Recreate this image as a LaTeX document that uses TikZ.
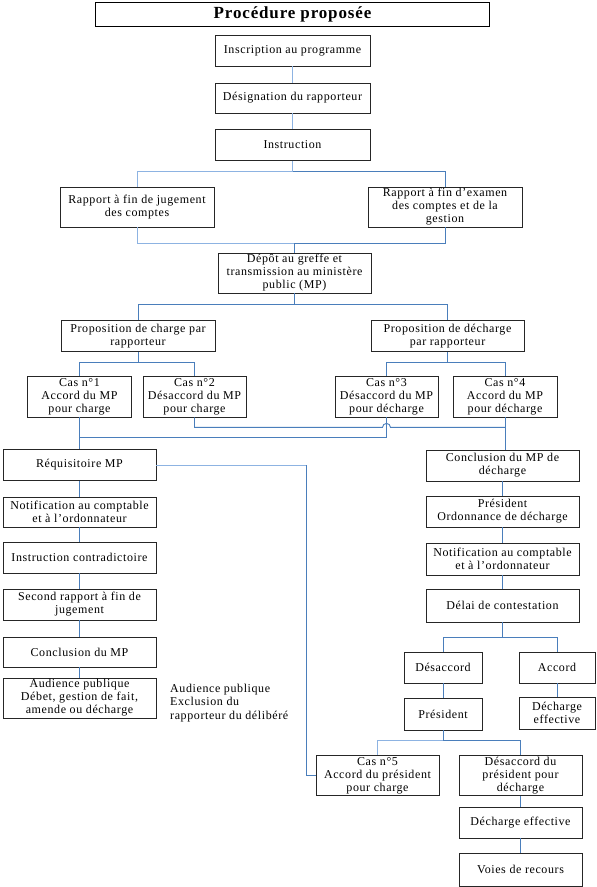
\documentclass[tikz,border=0pt]{standalone}
\usepackage{fontspec}
\setmainfont{Liberation Serif}[LetterSpace=5]
\usetikzlibrary{calc}
\definecolor{bleuclair}{HTML}{8DB3E2}
\definecolor{bleufonce}{HTML}{4A7EBB}
\tikzset{
  etape/.style={draw=black!85, line width=0.8pt, align=center, inner sep=0.5pt,
    font=\fontsize{12}{13}\selectfont},
  lien/.style={draw=bleufonce, line width=0.9pt},
  lienclair/.style={draw=bleuclair, line width=0.9pt},
}
\begin{document}
\begin{tikzpicture}[x=1pt,y=-1pt]
      \useasboundingbox (0,0) rectangle (597,887);
      % titre
      \node[draw, line width=0.9pt, minimum width=394, minimum height=24,
        font=\fontsize{17}{19}\selectfont\bfseries] (titre) at (292.5,14) {Procédure proposée};
      % tronc commun
      \node[etape, minimum width=155, minimum height=31] (inscription) at (292.5,50.5) {Inscription au programme};
      \node[etape, minimum width=155, minimum height=30] (designation) at (292.5,98) {Désignation du rapporteur};
      \node[etape, minimum width=155, minimum height=31] (instruction) at (292.5,145) {Instruction};
      \node[etape, minimum width=154, minimum height=40] (rapjugement) at (137,207) {Rapport à fin de jugement\\des comptes};
      \node[etape, minimum width=154, minimum height=40] (rapexamen) at (445,207) {Rapport à fin d’examen\\des comptes et de la\\gestion};
      \node[etape, minimum width=153, minimum height=40] (depot) at (294.5,273) {Dépôt au greffe et\\transmission au ministère\\public (MP)};
      \node[etape, minimum width=154, minimum height=31] (propcharge) at (138,336) {Proposition de charge par\\rapporteur};
      \node[etape, minimum width=153, minimum height=31] (propdecharge) at (447.5,336) {Proposition de décharge\\par rapporteur};
      % les quatre cas
      \node[etape, minimum width=104, minimum height=41] (cas1) at (79.5,396.5) {Cas n°1\\Accord du MP\\pour charge};
      \node[etape, minimum width=103, minimum height=41] (cas2) at (194.5,396.5) {Cas n°2\\Désaccord du MP\\pour charge};
      \node[etape, minimum width=103, minimum height=41] (cas3) at (386.5,396.5) {Cas n°3\\Désaccord du MP\\pour décharge};
      \node[etape, minimum width=104, minimum height=41] (cas4) at (505,396.5) {Cas n°4\\Accord du MP\\pour décharge};
      % colonne de gauche : charge
      \node[etape, minimum width=153, minimum height=31] (requisitoire) at (79.5,465) {Réquisitoire MP};
      \node[etape, minimum width=153, minimum height=30] (notifgauche) at (79.5,512) {Notification au comptable\\et à l’ordonnateur};
      \node[etape, minimum width=153, minimum height=31] (contradictoire) at (79.5,557.5) {Instruction contradictoire};
      \node[etape, minimum width=153, minimum height=31] (second) at (79.5,604.5) {Second rapport à fin de\\jugement};
      \node[etape, minimum width=153, minimum height=30] (conclusion) at (79.5,652) {Conclusion du MP};
      \node[etape, minimum width=153, minimum height=40] (audience) at (79.5,698) {Audience publique\\Débet, gestion de fait,\\amende ou décharge};
      \node[align=left, anchor=west, inner sep=0.5pt, font=\fontsize{12}{13.5}\selectfont] (exclusion) at (169.5,703) {Audience publique\\Exclusion du\\rapporteur du délibéré};
      % colonne de droite : décharge
      \node[etape, minimum width=153, minimum height=31] (concldecharge) at (502.5,465.5) {Conclusion du MP de\\décharge};
      \node[etape, minimum width=153, minimum height=31] (ordonnance) at (502.5,511.5) {Président\\Ordonnance de décharge};
      \node[etape, minimum width=153, minimum height=32] (notifdroite) at (502.5,559) {Notification au comptable\\et à l’ordonnateur};
      \node[etape, minimum width=153, minimum height=33] (delai) at (502.5,605.5) {Délai de contestation};
      \node[etape, minimum width=78, minimum height=31] (desaccord) at (443,667.5) {Désaccord};
      \node[etape, minimum width=76, minimum height=31] (accord) at (557,667.5) {Accord};
      \node[etape, minimum width=78, minimum height=32] (president) at (443,714) {Président};
      \node[etape, minimum width=76, minimum height=32] (effectiveaccord) at (557,713) {Décharge\\effective};
      \node[etape, minimum width=123, minimum height=40] (cas5) at (377.5,775.5) {Cas n°5\\Accord du président\\pour charge};
      \node[etape, minimum width=123, minimum height=40] (desaccpres) at (520.5,775.5) {Désaccord du\\président pour\\décharge};
      \node[etape, minimum width=123, minimum height=31] (effective) at (520.5,822.5) {Décharge effective};
      \node[etape, minimum width=123, minimum height=33] (recours) at (520.5,869.5) {Voies de recours};
      % liens du haut
      \draw[lienclair] (inscription) -- (designation);
      \draw[lienclair] (designation) -- (instruction);
      \draw[lien] (instruction.south) -- ++(0,11) -| (rapexamen.north);
      \draw[lienclair] (instruction.south) -- ++(0,11) -| (rapjugement.north);
      \draw[lienclair] (rapjugement.south) -- ++(0,16) -| (depot.north);
      \draw[lien] (rapexamen.south) -- ++(0,16) -| (depot.north);
      \draw[lien] (depot.south) -- ++(0,11) -| (propcharge.north);
      \draw[lien] (depot.south) -- ++(0,11) -| (propdecharge.north);
      \draw[lien] (propcharge.south) -- ++(0,11) -| (cas1.north);
      \draw[lien] (propcharge.south) -- ++(0,11) -| (cas2.north);
      \draw[lien] (propdecharge.south) -- ++(0,11) -| (cas3.north);
      \draw[lien] (propdecharge.south) -- ++(0,11) -| (cas4.north);
      % regroupement des cas
      \coordinate (jonction) at ($(cas4.south)+(0,10)$);
      \draw[lien] (cas4.south) -- (cas4.south |- concldecharge.north);
      \draw[lien] (cas2.south) |- ($(cas3.south |- jonction)+(-4,0)$)
        arc[start angle=180, end angle=0, radius=4pt] -- (jonction);
      \draw[lien] (cas1.south) -- (requisitoire.north);
      \draw[lien] (cas3.south) -- ++(0,20) -| (requisitoire.north);
      % charge
      \draw[lien] (requisitoire.east) ++(150,0) |- (cas5.west);
      \draw[lienclair] (requisitoire.east) -- ++(150,0);
      \draw[lien] (requisitoire) -- (notifgauche);
      \draw[lien] (notifgauche) -- (contradictoire);
      \draw[lien] (contradictoire) -- (second);
      \draw[lien] (second) -- (conclusion);
      \draw[lien] (conclusion) -- (audience);
      % décharge
      \draw[lien] (concldecharge) -- (ordonnance);
      \draw[lien] (ordonnance) -- (notifdroite);
      \draw[lien] (notifdroite) -- (delai);
      \draw[lien] (delai.south) -- ++(0,15) -| (desaccord.north);
      \draw[lien] (delai.south) -- ++(0,15) -| (accord.north);
      \draw[lien] (desaccord) -- (president);
      \draw[lien] (accord) -- (effectiveaccord);
      \draw[lienclair] (president.south) -- ++(0,10) -| (cas5.north);
      \draw[lien] (president.south) -- ++(0,10) -| (desaccpres.north);
      \draw[lien] (desaccpres) -- (effective);
      \draw[lien] (effective) -- (recours);
\end{tikzpicture}
\end{document}
